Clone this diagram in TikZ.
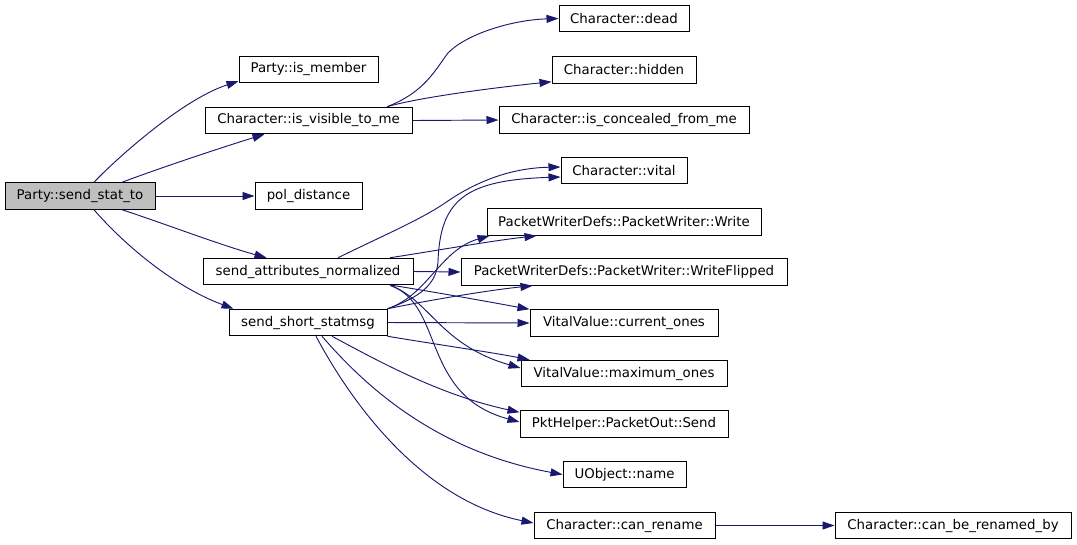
\documentclass[tikz,border=0pt]{standalone}
\usepackage{fontspec}
\setmainfont{DejaVu Sans}
\usetikzlibrary{arrows.meta,calc}
\definecolor{edgeblue}{RGB}{25,25,112}
\definecolor{rootgray}{RGB}{191,191,191}
\begin{document}
\begin{tikzpicture}[x=0.75pt,y=-0.75pt,
  box/.style={draw=black,line width=0.75pt,fill=white,inner sep=0pt,minimum height=26.5*0.75pt,
    font=\fontsize{10}{12}\selectfont,anchor=center},
  bw/.style={minimum width=#1*0.75pt},
  edge/.style={draw=edgeblue,line width=0.7pt,-{Triangle[length=9pt,width=6pt]},fill=none}]
\useasboundingbox (0,0) rectangle (1077,544);
\fill[white] (0,0) rectangle (1077,544);
% nodes
\node[box,bw=150,fill=rootgray] (root) at (80,196) {Party::send\_stat\_to};
\node[box,bw=139] (ismember) at (308.5,69.5) {Party::is\_member};
\node[box,bw=207] (visible) at (308.5,120.5) {Character::is\_visible\_to\_me};
\node[box,bw=107] (pol) at (308.5,196) {pol\_distance};
\node[box,bw=210] (attr) at (308,271.5) {send\_attributes\_normalized};
\node[box,bw=158] (short) at (308,322.5) {send\_short\_statmsg};
\node[box,bw=130] (dead) at (624,18.5) {Character::dead};
\node[box,bw=144] (hidden) at (624,70) {Character::hidden};
\node[box,bw=250] (concealed) at (624,120) {Character::is\_concealed\_from\_me};
\node[box,bw=126] (vital) at (624,170.5) {Character::vital};
\node[box,bw=274] (write) at (624,222) {PacketWriterDefs::PacketWriter::Write};
\node[box,bw=326] (wflip) at (624,272) {PacketWriterDefs::PacketWriter::WriteFlipped};
\node[box,bw=188] (cur) at (624,323) {VitalValue::current\_ones};
\node[box,bw=206] (max) at (624,373.5) {VitalValue::maximum\_ones};
\node[box,bw=208] (send) at (624,424) {PktHelper::PacketOut::Send};
\node[box,bw=123] (name) at (624.5,474.5) {UObject::name};
\node[box,bw=181] (rename) at (624.5,525.5) {Character::can\_rename};
\node[box,bw=236] (renby) at (953,525.5) {Character::can\_be\_renamed\_by};
% edges from root
\draw[edge] ($(root.north)+(14,0)$) .. controls (110,165) and (180,100) .. ($(ismember.south west)+(0,-2)$);
\draw[edge] ($(root.north)+(42,0)$) .. controls (160,168) and (220,148) .. ($(visible.south west)+(60,0)$);
\draw[edge] (root.east) -- (pol.west);
\draw[edge] ($(root.south)+(42,0)$) .. controls (160,222) and (220,245) .. ($(attr.north west)+(64,0)$);
\draw[edge] ($(root.south)+(14,0)$) .. controls (120,240) and (170,285) .. ($(short.north west)+(5,0)$);
% edges from visible
\draw[edge] ($(visible.north)+(78.5,0)$) .. controls (425,92) and (435,70) .. (448,53) .. controls (465,35) and (510,20) .. (dead.west);
\draw[edge] ($(visible.north)+(78.5,0)$) .. controls (420,97) and (500,87) .. ($(hidden.south west)+(0,-2)$);
\draw[edge] (visible.east) -- (concealed.west);
% edges from attr
\draw[edge] ($(attr.north)+(30,0)$) .. controls (380,237) and (420,220) .. (445,203) .. controls (475,182) and (510,168) .. ($(vital.west)+(0,-3.5)$);
\draw[edge] ($(attr.north)+(82,0)$) .. controls (440,250) and (490,241) .. ($(write.south west)+(50,0)$);
\draw[edge] (attr.east) -- (wflip.west);
\draw[edge] ($(attr.south)+(84,0)$) .. controls (440,293) and (490,302) .. (cur.north west);
\draw[edge] ($(attr.south)+(82,0)$) .. controls (430,300) and (440,345) .. ($(max.west)+(0,-5.5)$);
\draw[edge] ($(attr.south)+(82,0)$) .. controls (445,305) and (420,395) .. ($(send.west)+(0,-2)$);
% edges from short
\draw[edge] (short.north east) .. controls (420,297) and (436,285) .. (438,262) .. controls (440,200) and (465,180) .. ($(vital.west)+(0,6.5)$);
\draw[edge] (short.north east) .. controls (428,295) and (440,250) .. ($(write.south west)+(3,0)$);
\draw[edge] (short.north east) .. controls (430,300) and (490,290) .. ($(wflip.south west)+(72,0)$);
\draw[edge] (short.east) -- (cur.west);
\draw[edge] (short.south east) .. controls (440,345) and (490,352) .. ($(max.north west)+(9,0)$);
\draw[edge] ($(short.south)+(24,0)$) .. controls (380,362) and (440,395) .. ($(send.north west)+(0,2)$);
\draw[edge] ($(short.south)+(14,0)$) .. controls (360,380) and (430,450) .. (name.west);
\draw[edge] ($(short.south)+(8,0)$) .. controls (350,400) and (420,500) .. ($(rename.west)+(0,-2.5)$);
% edge from rename
\draw[edge] (rename.east) -- (renby.west);
\end{tikzpicture}
\end{document}
